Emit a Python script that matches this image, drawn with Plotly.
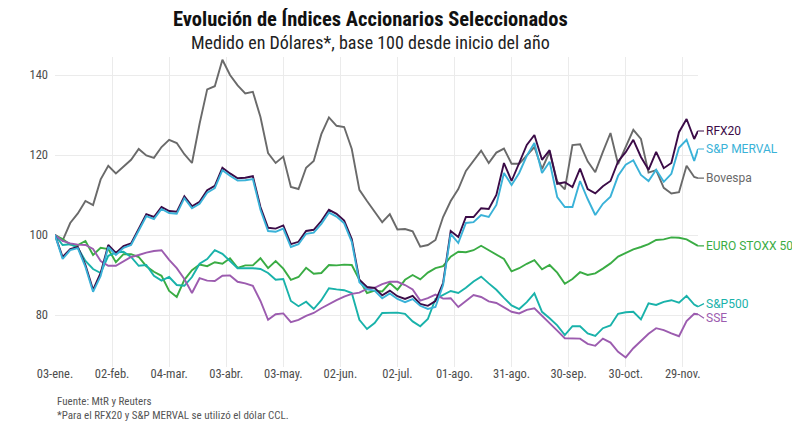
import pandas as pd
import plotly.graph_objects as go

# fechas de muestreo (cada 4 dias) y ultimo dato
fechas = list(pd.date_range("2022-01-03", periods=85, freq="4D")) + [pd.Timestamp("2022-12-07")]

tick_fechas = list(pd.date_range("2022-01-03", periods=12, freq="30D"))
tick_textos = ["03-ene.", "02-feb.", "04-mar.", "03-abr.", "03-may.", "02-jun.",
               "02-jul.", "01-ago.", "31-ago.", "30-sep.", "30-oct.", "29-nov."]

bovespa = [100, 98.6, 103, 105.4, 108.5, 107.5, 113.9, 117.3, 115.4, 117.1,
           118.8, 121.5, 119.9, 119.3, 122, 123.8, 123, 120.2, 118, 127.8,
           136.4, 137.2, 143.8, 140, 137.4, 135.4, 135.8, 129.5, 120.5, 118,
           119.6, 112, 111.5, 116.8, 118.5, 125.2, 129.4, 127.3, 127, 121.5,
           111.3, 108.5, 105.8, 103.2, 105.2, 101.4, 101.5, 100.9, 97.1, 97.5,
           98.75, 104.5, 108.5, 111.5, 116, 118.5, 121.1, 118, 120.6, 121.6,
           117.8, 117.8, 120, 122, 116.5, 120.8, 113.4, 111.4, 122.5, 122.7,
           118.4, 115.7, 120.8, 125.5, 117.7, 121.8, 126.3, 124, 115.6, 116.2,
           111.8, 110.4, 110.7, 117.3, 114.5, 114.2]

rfx20 = [100, 94.5, 96.5, 97, 92.5, 86.3, 90.5, 97.5, 95.5, 97.2,
         97.9, 101.5, 105.2, 104.5, 107, 106, 105.8, 109.7, 107.2, 108.3,
         111.2, 112.3, 116.8, 115.4, 114.2, 114.3, 114.7, 107, 101.8, 101.6,
         102.4, 97.7, 98.3, 101, 101.3, 103.5, 106.3, 105.3, 103.6, 99,
         88.8, 87, 86.8, 84.9, 86.1, 84.7, 84, 84.8, 82.8, 82.3,
         83.5, 88, 101, 99.5, 104.5, 104.5, 106.7, 106.5, 110, 118,
         113.5, 118, 122.5, 125, 118.8, 121.2, 112.8, 113.2, 112, 116.6,
         111.5, 110.4, 112.2, 113.5, 118.4, 120.7, 123.8, 119.5, 116.3, 120.8,
         116.7, 118, 125.7, 129, 124, 126]

merval = [100, 94, 96.2, 96.7, 92, 85.8, 89.8, 97, 95, 96.8,
          97.5, 101, 104.7, 104, 106.5, 105.5, 105.3, 109.2, 106.7, 107.8,
          110.6, 111.7, 116.2, 114.8, 113.6, 113.7, 114, 106.3, 101, 100.8,
          101.6, 97, 97.7, 100.3, 100.6, 102.8, 105.6, 104.6, 102.9, 98.3,
          88.2, 86.4, 86.1, 84.2, 85.4, 84, 83.2, 84, 82.3, 81.5,
          82, 87.5, 100.3, 98, 103, 103.2, 105, 104.5, 107.5, 115.5,
          112.5, 115.5, 119.8, 123, 115.5, 118.3, 109.5, 107, 107, 113.5,
          109, 105, 107.8, 109.6, 114.8, 117.6, 118.7, 115, 113.5, 116.3,
          113.3, 115.3, 121.8, 123.8, 118.5, 121.5]

eurostoxx = [100, 99, 97.6, 97.5, 98.5, 95, 96.8, 96.5, 93.2, 95.2,
             95.2, 94.5, 92.2, 90.8, 89.8, 86, 84.5, 88.8, 91.2, 92.6,
             92.2, 93.2, 92.8, 94.2, 91.8, 92.4, 92.4, 94.2, 91.7, 93.5,
             91.6, 88.8, 89.5, 91.8, 90.3, 90.5, 92.5, 92.4, 92.6, 92.5,
             88.8, 85.5, 86.1, 85.9, 88, 86.3, 88.8, 90, 88.9, 90.6,
             91.7, 92.2, 94.6, 95.8, 95.7, 96.2, 97.3, 96.2, 95.2, 94,
             90.9, 91.7, 92.8, 93.7, 91.4, 92.5, 90.6, 87.8, 89, 90.7,
             90, 90.4, 91.6, 92.9, 94.6, 95.5, 96.4, 97, 97.7, 98.75,
             98.9, 99.4, 99.3, 98.9, 97.9, 97.3]

sp500 = [100, 97.5, 97.7, 96.8, 93.5, 91.5, 90.5, 94.8, 95.6, 95.8,
         94.5, 92.3, 92.5, 89.8, 88.6, 89.5, 87.5, 87.3, 89.5, 92.8,
         94, 96.2, 95.3, 93.5, 91.7, 91.7, 91.7, 91.5, 90.5, 88.8,
         89, 83.5, 82.2, 83.3, 81.5, 83.7, 86.7, 86.4, 86.2, 85.5,
         78.8, 76.5, 78, 80.5, 80.6, 80.6, 80.3, 78.4, 77.2, 79,
         84, 85, 86, 85.5, 86.8, 88.4, 89.6, 87.9, 86.3, 84.3,
         82.4, 81.5, 83.2, 85.4, 80.8, 79.2, 77.4, 75, 77.2, 77.2,
         75.4, 74.8, 76.7, 77.4, 80.3, 80.7, 80.8, 78.9, 82.9, 82.5,
         83.3, 83.7, 83.1, 84.8, 82.6, 82.1]

sse = [100, 98.5, 97.9, 97.6, 97.5, 96.5, 93.5, 92.3, 92.3, 93.5,
       94.5, 95, 95.6, 96, 96.2, 93.8, 91.7, 89, 85.5, 89.2,
       88.6, 88.5, 89.8, 89.9, 88.3, 87.9, 87.3, 83.5, 78.8, 80.2,
       80.4, 78.2, 78.8, 79.8, 80.5, 81.7, 82.8, 83.7, 84.6, 85.3,
       85.6, 86.5, 86.8, 87.7, 88.3, 88.3, 87.5, 86.4, 83.6, 84.2,
       85.1, 84.1, 84.2, 82, 83.5, 85, 84.5, 83.4, 83, 81.8,
       80.8, 80.4, 81.3, 81.7, 79.9, 78, 76.1, 74.2, 74.2, 74.1,
       72.8, 72.3, 74.1, 73.1, 70.8, 69.4, 71.7, 73.4, 75.3, 76.7,
       76.2, 75.4, 74.7, 78.5, 80.3, 80.2]

# nombre, valores, color, desplazamiento vertical de la etiqueta (px)
series = [
    ("Bovespa", bovespa, "#6a6a6a", 0),
    ("EURO STOXX 50", eurostoxx, "#3aac44", 0),
    ("S&P500", sp500, "#19b2aa", -3),
    ("SSE", sse, "#9c5caf", 4),
    ("RFX20", rfx20, "#3b0b47", 0),
    ("S&P MERVAL", merval, "#3ab2d8", 0),
]

FONT = "Roboto Condensed, Roboto, sans-serif"

fig = go.Figure()
for nombre, valores, color, dy in series:
    fig.add_trace(go.Scatter(x=fechas, y=valores, mode="lines", name=nombre,
                             line=dict(color=color, width=1.9)))
    fig.add_annotation(x=fechas[-1], y=valores[-1], text=nombre, showarrow=True,
                       arrowhead=0, arrowwidth=1.2, arrowcolor=color, ax=6, ay=dy,
                       standoff=0, xanchor="left",
                       font=dict(color=color, size=12, family="Roboto, sans-serif"))

fig.add_annotation(xref="paper", yref="paper", x=0.49, y=1.124, yanchor="middle",
                   text="<b>Evolución de Índices Accionarios Seleccionados</b>",
                   showarrow=False, font=dict(size=20.5, color="#111111", family=FONT))
fig.add_annotation(xref="paper", yref="paper", x=0.49, y=1.048, yanchor="middle",
                   text="Medido en Dólares*, base 100 desde inicio del año",
                   showarrow=False, font=dict(size=18, color="#222222", family=FONT))
fig.add_annotation(xref="paper", yref="paper", x=0, y=-0.085, xanchor="left", yanchor="top",
                   align="left",
                   text="Fuente: MtR y Reuters<br>*Para el RFX20 y S&P MERVAL se utilizó el dólar CCL.",
                   showarrow=False, font=dict(size=11, color="#555555", family=FONT))

# la pagina tiene 8px de margen en el body: figura de 792x419
fig.update_layout(
    width=792,
    height=419,
    margin=dict(l=47, r=102, t=49, b=60),
    plot_bgcolor="white",
    paper_bgcolor="white",
    showlegend=False,
    xaxis=dict(range=[fechas[0], fechas[-1]], tickvals=tick_fechas, ticktext=tick_textos,
               showgrid=True, gridcolor="#ebebeb", gridwidth=1, zeroline=False, automargin=False,
               ticklabelstandoff=-3,
               tickfont=dict(size=12.5, color="#4d4d4d", family=FONT), ticks=""),
    yaxis=dict(range=[67, 144.5], tickvals=[80, 100, 120, 140], automargin=False,
               showgrid=True, gridcolor="#ebebeb", gridwidth=1, zeroline=False,
               ticklabelstandoff=6,
               tickfont=dict(size=12.5, color="#4d4d4d", family=FONT), ticks=""),
)

fig.write_html("out.html")
